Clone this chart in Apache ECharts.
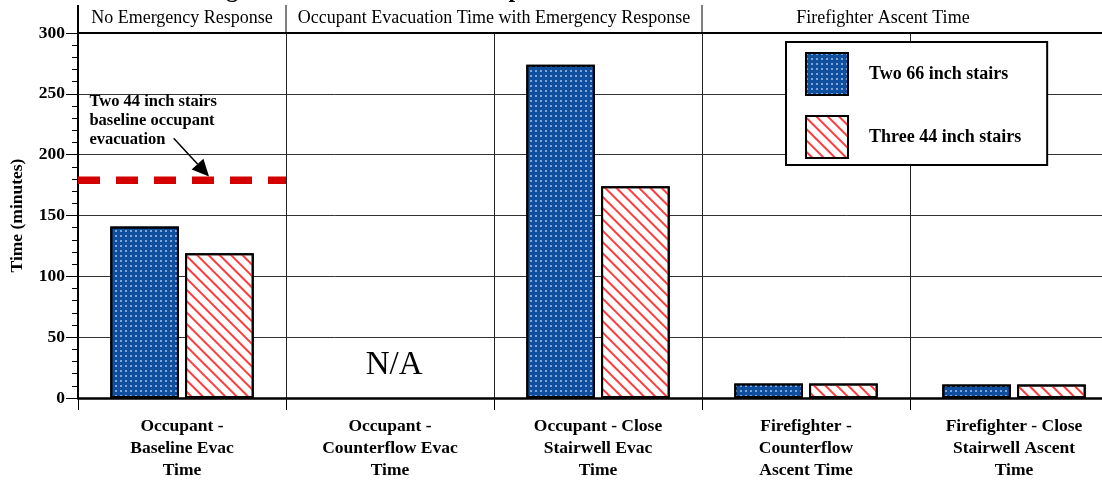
<!DOCTYPE html>
<html>
<head>
<meta charset="utf-8">
<script src="https://cdn.jsdelivr.net/npm/echarts@6/dist/echarts.min.js"></script>
<style>
  html, body { margin: 0; padding: 0; background: #fff; }
  #main { width: 1102px; height: 480px; }
</style>
</head>
<body>
<div id="main"></div>
<script>
// data
var categories = [
    'Occupant -\nBaseline Evac\nTime',
    'Occupant -\nCounterflow Evac\nTime',
    'Occupant - Close\nStairwell Evac\nTime',
    'Firefighter -\nCounterflow\nAscent Time',
    'Firefighter - Close\nStairwell Ascent\nTime'
];
var twoSixtySix = [141, null, 274, 12, 11];
var threeFortyFour = [119, null, 174, 12, 11];
var baselineValue = 179;          // two 44 inch stairs baseline
var yMax = 300;
var yStep = 50;
// header groups: text, first and last category boundary
var groupNames = ['No Emergency Response', 'Occupant Evacuation Time with Emergency Response', 'Firefighter Ascent Time'];
var groupFrom = [0, 1, 3];
var groupTo = [1, 3, 5];

var serif = '"Liberation Serif", "Times New Roman", Times, serif';
var chart = echarts.init(document.getElementById('main'));

var option = {
    animation: false,
    backgroundColor: '#fff',
    textStyle: { fontFamily: serif, color: '#000' },
    grid: { left: 78, top: 33, width: 1040, bottom: 82, outerBoundsMode: 'none', containLabel: false },
    legend: {
        data: ['Two 66 inch stairs', 'Three 44 inch stairs'],
        orient: 'vertical',
        left: 786,
        top: 42,
        icon: 'rect',
        itemWidth: 42,
        itemHeight: 42,
        itemGap: 19,
        padding: [10, 26, 6, 19],
        backgroundColor: '#fff',
        borderColor: '#000',
        borderWidth: 2,
        textStyle: { fontFamily: serif, fontWeight: 'bold', fontSize: 18, color: '#000', padding: [0, 0, 0, 16] }
    },
    xAxis: [{
        type: 'category',
        data: categories,
        boundaryGap: true,
        axisLine: { lineStyle: { color: '#000', width: 2.5 } },
        axisTick: { show: true, length: 12, lineStyle: { color: '#000', width: 1 } },
        axisLabel: { interval: 0, margin: 17, fontFamily: serif, fontWeight: 'bold', fontSize: 17.5, lineHeight: 22, color: '#000' },
        splitLine: { show: true, interval: 0, lineStyle: { color: '#222', width: 1 } }
    }, {
        // overlay axis: category boundaries at integer values
        type: 'value',
        min: 0,
        max: categories.length,
        position: 'top',
        axisLine: { show: true, onZero: false, lineStyle: { color: '#000', width: 2 } },
        axisTick: { show: false },
        axisLabel: { show: false },
        splitLine: { show: false }
    }],
    yAxis: {
        type: 'value',
        min: 0,
        max: yMax,
        interval: yStep,
        name: 'Time (minutes)',
        nameLocation: 'middle',
        nameGap: 52,
        nameTextStyle: { fontFamily: serif, fontWeight: 'bold', fontSize: 17.5, color: '#000' },
        axisLine: { show: true, lineStyle: { color: '#000', width: 2 } },
        axisTick: { show: true, length: 12, lineStyle: { color: '#000', width: 1 } },
        minorTick: { show: true, splitNumber: 5, length: 6, lineStyle: { color: '#000', width: 1 } },
        axisLabel: { margin: 13, fontFamily: serif, fontWeight: 'bold', fontSize: 17.5, color: '#000' },
        splitLine: { show: true, lineStyle: { color: '#333', width: 1 } }
    },
    series: [{
        name: 'Two 66 inch stairs',
        type: 'bar',
        data: twoSixtySix,
        barWidth: '33%',
        barGap: '9%',
        itemStyle: {
            color: '#0f4f9e',
            borderColor: '#000',
            borderWidth: 2,
            decal: {
                symbol: 'circle',
                symbolSize: 1,
                color: 'rgba(200,225,255,0.8)',
                dashArrayX: [1.5, 2.8],
                dashArrayY: [1.5, 2.8]
            }
        }
    }, {
        name: 'Three 44 inch stairs',
        type: 'bar',
        data: threeFortyFour,
        barWidth: '33%',
        barGap: '9%',
        itemStyle: {
            color: '#fff',
            borderColor: '#000',
            borderWidth: 2,
            decal: {
                symbol: 'rect',
                symbolSize: 1,
                color: '#ff3c3c',
                dashArrayX: [1, 0],
                dashArrayY: [1.3, 5.4],
                rotation: Math.PI / 4
            }
        }
    }, {
        name: 'baseline',
        type: 'line',
        xAxisIndex: 1,
        data: [[0, baselineValue], [1, baselineValue]],
        symbol: 'none',
        silent: true,
        z: 5,
        lineStyle: { color: '#d40000', width: 7.5, type: [22, 16] }
    }]
};
chart.setOption(option);

// header, N/A, annotation text and arrow placed through the axes
function px(x, y) {
    return chart.convertToPixel({ xAxisIndex: 1, yAxisIndex: 0 }, [x, y]);
}
var topY = px(0, yMax)[1];
var graphics = [];
for (var i = 0; i < groupNames.length; i++) {
    var a = px(groupFrom[i], yMax)[0];
    var b = px(groupTo[i], yMax)[0];
    graphics.push({
        type: 'line', silent: true,
        shape: { x1: a, y1: 5, x2: a, y2: topY },
        style: { stroke: '#000', lineWidth: i == 0 ? 2 : 1 }
    });
    var cx = i == 2 ? px(3.87, yMax)[0] : (a + b) / 2;
    graphics.push({
        type: 'text', silent: true,
        x: cx, y: 18,
        style: { text: groupNames[i], font: '18px ' + serif, fill: '#000', align: 'center', verticalAlign: 'middle' }
    });
}
var na = px(1.52, 27);
graphics.push({
    type: 'text', silent: true, x: na[0], y: na[1],
    style: { text: 'N/A', font: '33px ' + serif, fill: '#000', align: 'center', verticalAlign: 'middle' }
});
var note = px(0.055, 251.5);
graphics.push({
    type: 'text', silent: true, x: note[0], y: note[1],
    style: { text: 'Two 44 inch stairs\nbaseline occupant\nevacuation', font: 'bold 16.5px ' + serif, lineHeight: 19, fill: '#000', align: 'left', verticalAlign: 'top' }
});
// arrow from the note down to the baseline
var p0 = px(0.46, 213.5);
var p1 = px(0.63, 182);
var dx = p1[0] - p0[0], dy = p1[1] - p0[1];
var len = Math.sqrt(dx * dx + dy * dy);
var ux = dx / len, uy = dy / len;
var headL = 17, headW = 8;
var bx = p1[0] - ux * headL, by = p1[1] - uy * headL;
graphics.push({
    type: 'line', silent: true,
    shape: { x1: p0[0], y1: p0[1], x2: bx, y2: by },
    style: { stroke: '#000', lineWidth: 1.5 }
});
graphics.push({
    type: 'polygon', silent: true,
    shape: { points: [[p1[0], p1[1]], [bx - uy * headW, by + ux * headW], [bx + uy * headW, by - ux * headW]] },
    style: { fill: '#000' }
});
graphics.push({
    type: 'text', silent: true, x: 205, y: 3,
    style: { text: 'Figure 4: Evacuation and Response Times for Different Stair Widths', font: 'bold 24px ' + serif, fill: '#000', align: 'left', verticalAlign: 'bottom' }
});
chart.setOption({ graphic: graphics });
</script>
</body>
</html>
